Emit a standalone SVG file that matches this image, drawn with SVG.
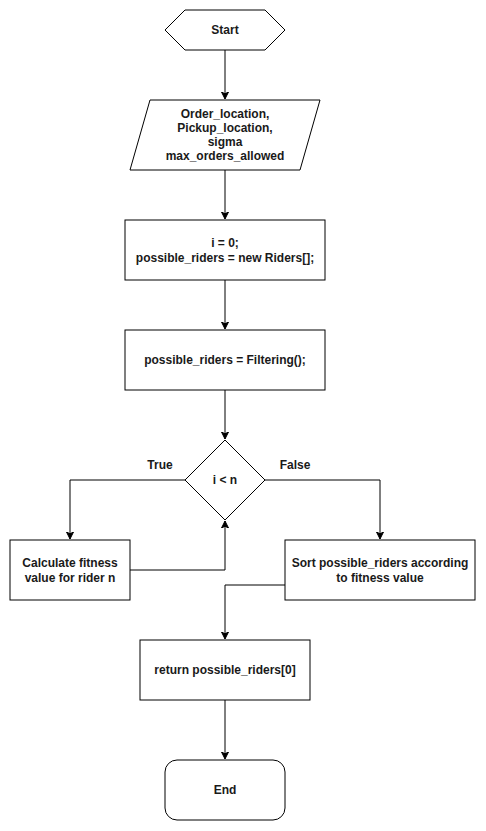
<svg xmlns="http://www.w3.org/2000/svg" width="486" height="831" viewBox="0 0 486 831">
  <style>
    .shape { fill: #ffffff; stroke: #000000; stroke-width: 1; }
    .edge { fill: none; stroke: #000000; stroke-width: 1; }
    text { font-family: "Liberation Sans", Arial, Helvetica, sans-serif; font-size: 12px; font-weight: bold; fill: #1a1a1a; text-anchor: middle; }
  </style>
  <defs>
    <marker id="arrow" markerUnits="userSpaceOnUse" markerWidth="8" markerHeight="8" refX="7" refY="4" orient="auto">
      <path d="M0,0.5 L7,4 L0,7.5 L1.75,4 Z" fill="#000000" stroke="#000000" stroke-width="1"/>
    </marker>
  </defs>
  <rect width="486" height="831" fill="#ffffff"/>

  <g id="connectors">
    <path class="edge" d="M225,50 L225,99" marker-end="url(#arrow)"/>
    <path class="edge" d="M225,170 L225,219" marker-end="url(#arrow)"/>
    <path class="edge" d="M225,280 L225,329" marker-end="url(#arrow)"/>
    <path class="edge" d="M225,390 L225,439" marker-end="url(#arrow)"/>
    <path class="edge" d="M185,480 L70,480 L70,539" marker-end="url(#arrow)"/>
    <path class="edge" d="M265,480 L380,480 L380,539" marker-end="url(#arrow)"/>
    <path class="edge" d="M130,570 L225,570 L225,521" marker-end="url(#arrow)"/>
    <path class="edge" d="M285,585 L225,585 L225,639" marker-end="url(#arrow)"/>
    <path class="edge" d="M225,700 L225,759" marker-end="url(#arrow)"/>
    <text x="160" y="469">True</text>
    <text x="295" y="469">False</text>
  </g>

  <g id="start">
    <polygon class="shape" points="165,30 185,10 265,10 285,30 265,50 185,50"/>
    <text x="225" y="34">Start</text>
  </g>

  <g id="inputs">
    <polygon class="shape" points="150,100 320,100 300,170 130,170"/>
    <text x="225" y="118">Order_location,</text>
    <text x="225" y="132">Pickup_location,</text>
    <text x="225" y="146">sigma</text>
    <text x="225" y="160">max_orders_allowed</text>
  </g>

  <g id="init">
    <rect class="shape" x="125" y="220" width="200" height="60"/>
    <text x="225" y="247">i = 0;</text>
    <text x="225" y="262">possible_riders = new Riders[];</text>
  </g>

  <g id="filtering">
    <rect class="shape" x="125" y="330" width="200" height="60"/>
    <text x="225" y="364">possible_riders = Filtering();</text>
  </g>

  <g id="condition">
    <polygon class="shape" points="225,440 265,480 225,520 185,480"/>
    <text x="225" y="484">i &lt; n</text>
  </g>

  <g id="fitness">
    <rect class="shape" x="10" y="540" width="120" height="60"/>
    <text x="70" y="567">Calculate fitness</text>
    <text x="70" y="582">value for rider n</text>
  </g>

  <g id="sort">
    <rect class="shape" x="285" y="540" width="190" height="60"/>
    <text x="380" y="567">Sort possible_riders according</text>
    <text x="380" y="582">to fitness value</text>
  </g>

  <g id="return">
    <rect class="shape" x="140" y="640" width="170" height="60"/>
    <text x="225" y="674">return possible_riders[0]</text>
  </g>

  <g id="end">
    <rect class="shape" x="165" y="760" width="120" height="60" rx="12" ry="12"/>
    <text x="225" y="794">End</text>
  </g>
</svg>
